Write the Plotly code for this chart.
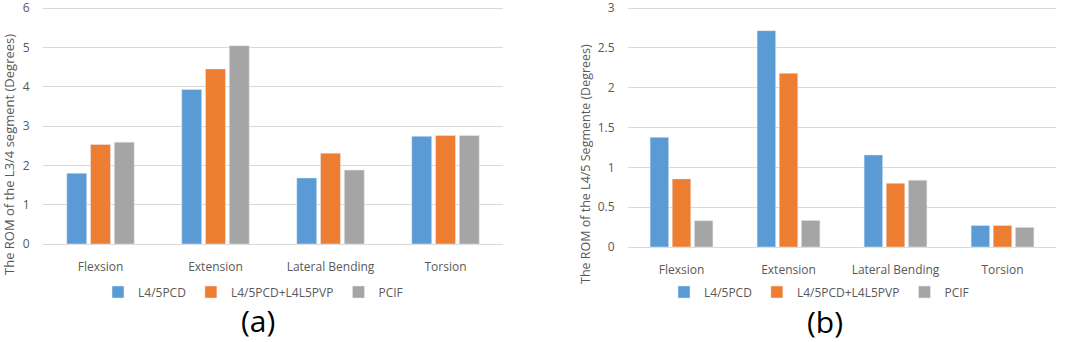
import plotly.graph_objects as go

categories = ["Flexsion", "Extension", "Lateral Bending", "Torsion"]
series_names = ["L4/5PCD", "L4/5PCD+L4L5PVP", "PCIF"]
colors = ["#5B9BD5", "#ED7D31", "#A5A5A5"]

# (a) ROM of L3/4 segment
a_pcd = [1.80, 3.93, 1.68, 2.74]
a_pcd_pvp = [2.53, 4.45, 2.31, 2.76]
a_pcif = [2.59, 5.04, 1.88, 2.76]

# (b) ROM of L4/5 segment
b_pcd = [1.377, 2.716, 1.156, 0.27]
b_pcd_pvp = [0.855, 2.18, 0.80, 0.27]
b_pcif = [0.33, 0.334, 0.839, 0.246]

a_ticks = [0, 1, 2, 3, 4, 5, 6]
b_ticks = [0, 0.5, 1, 1.5, 2, 2.5, 3]
b_ticklabels = ["0", "0.5", "1", "1.5", "2", "2.5", "3"]

W, H = 1065, 342
FONT = "Open Sans"
TXT = "#595959"

fig = go.Figure()
for name, vals, c in zip(series_names, [a_pcd, a_pcd_pvp, a_pcif], colors):
    fig.add_trace(go.Bar(x=categories, y=vals, name=name, marker_color=c,
                         xaxis="x", yaxis="y", legend="legend"))
for name, vals, c in zip(series_names, [b_pcd, b_pcd_pvp, b_pcif], colors):
    fig.add_trace(go.Bar(x=categories, y=vals, name=name, marker_color=c,
                         xaxis="x2", yaxis="y2", legend="legend2"))

def px_x(p):
    return p / W

def px_y(p):
    return 1 - p / H

def yaxis_layout(zero_px, top_px, top_val, pad=3):
    # plot area padded a few px beyond the top/bottom ticks so edge gridlines show
    unit = (zero_px - top_px) / top_val
    lo = -pad / unit
    hi = top_val + pad / unit
    return [px_y(zero_px + pad), px_y(top_px - pad)], [lo, hi]

common_x = dict(showgrid=False, showline=False, ticks="outside", ticklen=9,
                tickcolor="rgba(0,0,0,0)", automargin=False,
                tickfont=dict(family=FONT, size=12, color=TXT))
common_y = dict(showgrid=True, gridcolor="#D9D9D9", gridwidth=1, zeroline=False,
                showline=False, ticks="outside", ticklen=10,
                tickcolor="rgba(0,0,0,0)", automargin=False, ticklabeloverflow="allow",
                tickfont=dict(family=FONT, size=12, color=TXT))

leg = dict(orientation="h", yanchor="middle", font=dict(family=FONT, size=12, color=TXT),
           itemwidth=30, bgcolor="rgba(0,0,0,0)", tracegroupgap=0)

def ann(text, x, y, size, color, angle=0):
    return dict(text=text, textangle=angle, x=px_x(x), y=px_y(y), xref="paper",
                yref="paper", xanchor="center", yanchor="middle", showarrow=False,
                font=dict(family=FONT, size=size, color=color))

dom1, rng1 = yaxis_layout(244, 8, 6)
dom2, rng2 = yaxis_layout(247, 8, 3)

fig.update_layout(
    width=W, height=H,
    margin=dict(l=0, r=0, t=0, b=0, autoexpand=False),
    paper_bgcolor="white", plot_bgcolor="white",
    barmode="group", bargap=0.38, bargroupgap=0.16,
    font=dict(family=FONT, color=TXT),
    xaxis=dict(domain=[px_x(43), px_x(503)], anchor="y", **common_x),
    yaxis=dict(domain=dom1, anchor="x", range=rng1, tickvals=a_ticks, **common_y),
    xaxis2=dict(domain=[px_x(628), px_x(1056)], anchor="y2", **common_x),
    yaxis2=dict(domain=dom2, anchor="x2", range=rng2,
                tickvals=b_ticks, ticktext=b_ticklabels, **common_y),
    legend=dict(x=px_x(253), xanchor="center", y=px_y(292), **leg),
    legend2=dict(x=px_x(819), xanchor="center", y=px_y(292), **leg),
    annotations=[
        ann("The ROM of the L3/4 segment (Degrees)", 9, 155, 13, TXT, -90),
        ann("The ROM of the L4/5 Segmente (Degrees)", 585, 164, 12.5, TXT, -90),
        ann("(a)", 258, 320, 30, "#000000"),
        ann("(b)", 825, 321, 30, "#000000"),
    ],
)

fig.write_html("out.html", config={"displayModeBar": False},
               post_script="document.body.style.margin='0';")
